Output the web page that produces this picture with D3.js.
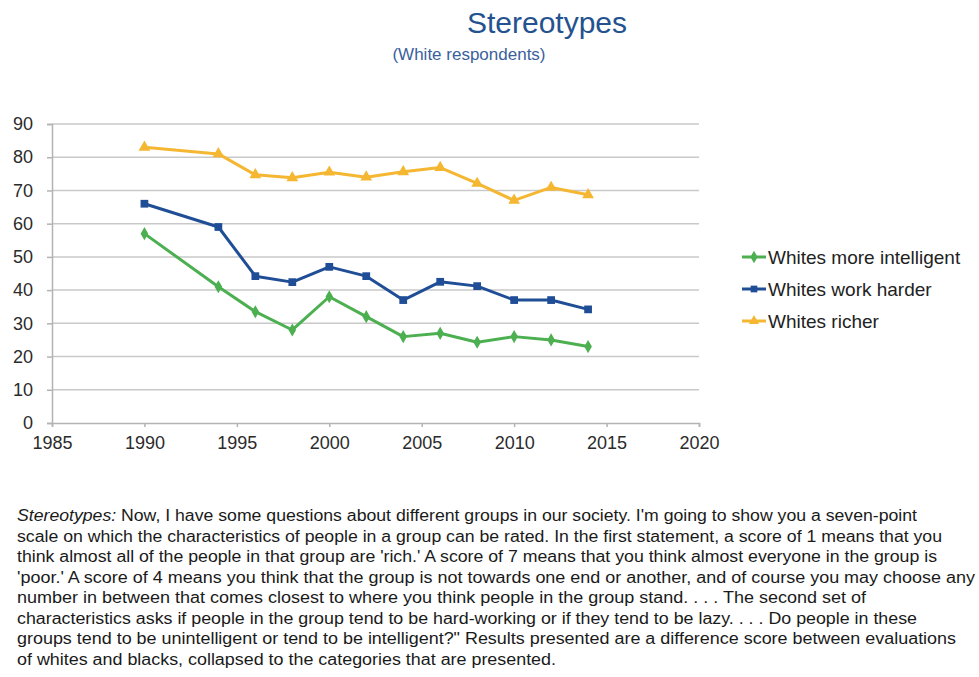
<!DOCTYPE html>
<html>
<head>
<meta charset="utf-8">
<script src="https://cdn.jsdelivr.net/npm/d3@7"></script>
<style>
  body { margin: 0; background: #fff; }
  svg { font-family: "Liberation Sans", Arial, sans-serif; }
</style>
</head>
<body>
<svg id="chart" width="979" height="677"></svg>
<script>
// survey years and series values
var intelYears = [1990, 1994, 1996, 1998, 2000, 2002, 2004, 2006, 2008, 2010, 2012, 2014];
var intelValues = [57, 41, 33.5, 28, 38, 32, 26, 27, 24.3, 26, 25, 23];
var workYears = [1990, 1994, 1996, 1998, 2000, 2002, 2004, 2006, 2008, 2010, 2012, 2014];
var workValues = [66, 59, 44.2, 42.4, 47, 44.2, 37, 42.5, 41.2, 37, 37, 34.2];
var richYears = [1990, 1994, 1996, 1998, 2000, 2002, 2004, 2006, 2008, 2010, 2012, 2014];
var richValues = [83, 81, 74.7, 73.8, 75.5, 74, 75.6, 76.9, 72.1, 67, 70.9, 68.7];

var seriesNames = ["Whites more intelligent", "Whites work harder", "Whites richer"];
var xTicks = [1985, 1990, 1995, 2000, 2005, 2010, 2015, 2020];
var yTicks = [0, 10, 20, 30, 40, 50, 60, 70, 80, 90];

var noteLines = [
  "Now, I have some questions about different groups in our society. I'm going to show you a seven-point",
  "scale on which the characteristics of people in a group can be rated. In the first statement, a score of 1 means that you",
  "think almost all of the people in that group are 'rich.' A score of 7 means that you think almost everyone in the group is",
  "'poor.' A score of 4 means you think that the group is not towards one end or another, and of course you may choose any",
  "number in between that comes closest to where you think people in the group stand. . . . The second set of",
  "characteristics asks if people in the group tend to be hard-working or if they tend to be lazy. . . . Do people in these",
  "groups tend to be unintelligent or tend to be intelligent?\" Results presented are a difference score between evaluations",
  "of whites and blacks, collapsed to the categories that are presented."
];
var noteWidths = [900, 925, 920, 958, 849, 900, 939, 539];

var colors = ["#4caf50", "#1f4e96", "#f5b731"];
var symbols = [d3.symbolDiamond, d3.symbolSquare, d3.symbolTriangle];

var series = [
  { name: seriesNames[0], years: intelYears, values: intelValues },
  { name: seriesNames[1], years: workYears, values: workValues },
  { name: seriesNames[2], years: richYears, values: richValues }
].map(function(s, i) {
  return {
    name: s.name,
    color: colors[i],
    symbol: symbols[i],
    points: s.years.map(function(yr, j) { return { year: yr, value: s.values[j] }; })
  };
});

var svg = d3.select("#chart");
var plotLeft = 52, plotRight = 699, plotTop = 124, plotBottom = 423;

var x = d3.scaleLinear().domain([1985, 2020]).range([plotLeft, plotRight]);
var y = d3.scaleLinear().domain([0, 90]).range([plotBottom, plotTop]);

/* titles */
svg.append("text")
  .attr("x", 547).attr("y", 33)
  .attr("text-anchor", "middle")
  .style("font-size", "30px")
  .style("fill", "#24528f")
  .text("Stereotypes");

svg.append("text")
  .attr("x", 469).attr("y", 60)
  .attr("text-anchor", "middle")
  .style("font-size", "17px")
  .style("fill", "#3b5f9c")
  .text("(White respondents)");

/* grid */
svg.append("g")
  .selectAll("line")
  .data(yTicks.filter(function(d) { return d > 0; }))
  .enter().append("line")
  .attr("x1", plotLeft).attr("x2", plotRight)
  .attr("y1", function(d) { return y(d); })
  .attr("y2", function(d) { return y(d); })
  .style("stroke", "#c9c9c9")
  .style("stroke-width", 1.5);

/* axes */
var yAxis = svg.append("g")
  .attr("transform", "translate(" + plotLeft + ",0)")
  .call(d3.axisLeft(y).tickValues(yTicks).tickSize(5).tickPadding(14));

var xAxis = svg.append("g")
  .attr("transform", "translate(0," + plotBottom + ")")
  .call(d3.axisBottom(x).tickValues(xTicks).tickSize(4).tickPadding(9).tickFormat(d3.format("d")));

[yAxis, xAxis].forEach(function(a) {
  a.select(".domain").style("stroke", "#b3b3b3").style("stroke-width", 1.5);
  a.selectAll(".tick line").style("stroke", "#b3b3b3").style("stroke-width", 1.5);
  a.selectAll(".tick text")
    .style("font-size", "18px")
    .style("fill", "#2b2b2b")
    .style("font-family", "'Liberation Sans', Arial, sans-serif");
});

/* lines */
var line = d3.line()
  .x(function(d) { return x(d.year); })
  .y(function(d) { return y(d.value); });

var groups = svg.append("g").selectAll("g.series")
  .data(series)
  .enter().append("g")
  .attr("class", "series");

groups.append("path")
  .attr("d", function(d) { return line(d.points); })
  .style("fill", "none")
  .style("stroke", function(d) { return d.color; })
  .style("stroke-width", 3)
  .style("stroke-linejoin", "round");

groups.each(function(s) {
  d3.select(this).selectAll("path.pt")
    .data(s.points)
    .enter().append("path")
    .attr("class", "pt")
    .attr("transform", function(d) { return "translate(" + x(d.year) + "," + y(d.value) + ")"; })
    .attr("d", d3.symbol().type(s.symbol).size(s.symbol === d3.symbolDiamond ? 50 : 60))
    .style("fill", s.color);
});

/* legend */
var legend = svg.append("g").selectAll("g.leg")
  .data(series)
  .enter().append("g")
  .attr("class", "leg")
  .attr("transform", function(d, i) { return "translate(742," + (257 + i * 32) + ")"; });

legend.append("line")
  .attr("x1", 0).attr("x2", 24)
  .style("stroke", function(d) { return d.color; })
  .style("stroke-width", 3);

legend.append("path")
  .attr("transform", "translate(12,0)")
  .attr("d", function(d) { return d3.symbol().type(d.symbol).size(45)(); })
  .style("fill", function(d) { return d.color; });

legend.append("text")
  .attr("x", 26).attr("y", 7)
  .style("font-size", "19px")
  .style("fill", "#222")
  .text(function(d) { return d.name; });

/* footnote */
var note = svg.append("g").style("font-size", "16px").style("fill", "#1a1a1a");
note.selectAll("text")
  .data(noteLines)
  .enter().append("text")
  .attr("x", 17)
  .attr("y", function(d, i) { return 521 + i * 20.5; })
  .attr("textLength", function(d, i) { return noteWidths[i]; })
  .attr("lengthAdjust", "spacingAndGlyphs")
  .each(function(d, i) {
    var t = d3.select(this);
    if (i === 0) {
      t.append("tspan").style("font-style", "italic").text("Stereotypes:");
      t.append("tspan").text(" " + d);
    } else {
      t.text(d);
    }
  });
</script>
</body>
</html>
